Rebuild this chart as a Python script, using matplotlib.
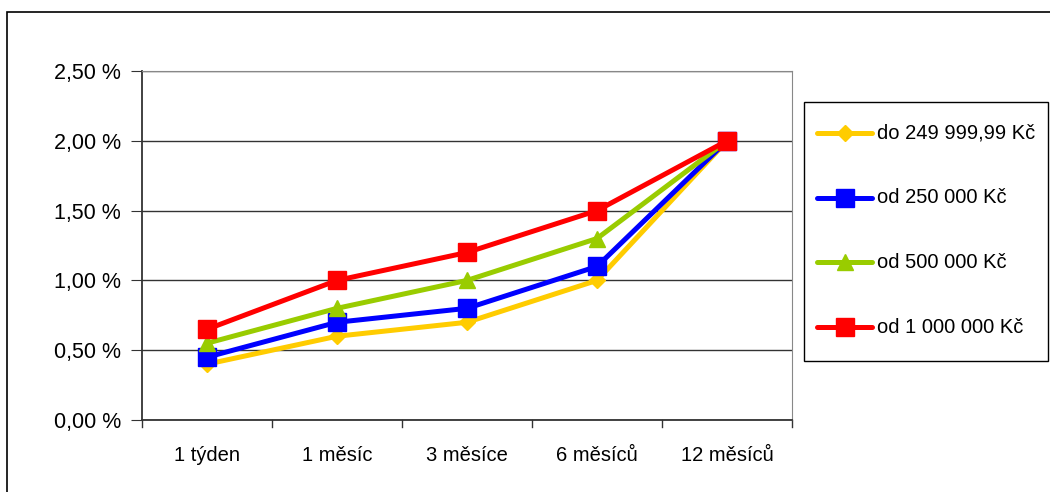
import matplotlib
matplotlib.use("Agg")
import matplotlib.pyplot as plt
from matplotlib.patches import Rectangle
from matplotlib.lines import Line2D
from matplotlib.ticker import FixedLocator, FuncFormatter

plt.rcParams['font.family'] = ['Liberation Sans', 'DejaVu Sans']

categories = ["1 týden", "1 měsíc", "3 měsíce", "6 měsíců", "12 měsíců"]
series_names = ["do 249 999,99 Kč", "od 250 000 Kč", "od 500 000 Kč", "od 1 000 000 Kč"]
rates_do_249999 = [0.40, 0.60, 0.70, 1.00, 2.00]
rates_od_250000 = [0.45, 0.70, 0.80, 1.10, 2.00]
rates_od_500000 = [0.55, 0.80, 1.00, 1.30, 2.00]
rates_od_1000000 = [0.65, 1.00, 1.20, 1.50, 2.00]
y_ticks = [0.0, 0.5, 1.0, 1.5, 2.0, 2.5]

series = [rates_do_249999, rates_od_250000, rates_od_500000, rates_od_1000000]
colors = ["#FFCC00", "#0000FF", "#99CC00", "#FF0000"]
markers = ["D", "s", "^", "s"]
msizes = [8, 12.5, 11, 12.5]
LW = 3.6

W, H = 1050, 492
fig = plt.figure(figsize=(W / 100, H / 100), dpi=100)
fig.patch.set_facecolor("white")

# outer chart frame (continues past the right and bottom edges)
fig.patches.append(Rectangle((7 / W, -0.05), 1.2, 1 - 12 / H + 0.05,
                             transform=fig.transFigure, fill=False,
                             edgecolor="black", linewidth=1.2))

ax = fig.add_axes([142 / W, 1 - 420 / H, (792 - 142) / W, (420 - 71) / H])
x = list(range(len(categories)))
for vals, name, c, m, ms in zip(series, series_names, colors, markers, msizes):
    ax.plot(x, vals, color=c, linewidth=LW, marker=m, markersize=ms,
            markerfacecolor=c, markeredgecolor=c, label=name, clip_on=False)

ax.set_xlim(-0.5, len(categories) - 0.5)
ax.set_ylim(0, 2.5)
ax.yaxis.set_major_locator(FixedLocator(y_ticks))
ax.yaxis.set_major_formatter(FuncFormatter(lambda v, p: f"{v:.2f}".replace(".", ",") + " %"))
ax.grid(axis="y", color="#333333", linewidth=1)
ax.set_axisbelow(True)

ax.set_xticks(x)
ax.set_xticklabels(categories, fontsize=14.5)
ax.tick_params(axis="x", length=0, pad=19)
# category separators below the axis
for b in [i - 0.5 for i in range(len(categories) + 1)]:
    ax.plot([b, b], [0, -0.02 * 2.5], color="#333333", linewidth=1,
            clip_on=False)
ax.tick_params(axis="y", labelsize=15.5, length=8, color="#333333", pad=7)

for side in ["top", "right"]:
    ax.spines[side].set_color("#888888")
ax.spines["left"].set_color("#333333")
ax.spines["bottom"].set_color("#333333")
ax.spines["left"].set_linewidth(1.3)
ax.spines["bottom"].set_linewidth(1.3)

# legend box
fig.patches.append(Rectangle((804 / W, 1 - 361 / H), (1048 - 804) / W, (361 - 102) / H,
                             transform=fig.transFigure, fill=True,
                             facecolor="white", edgecolor="black", linewidth=1))
for i, (name, c, m, ms) in enumerate(zip(series_names, colors, markers, msizes)):
    yy = 1 - (133 + i * 64.7) / H
    fig.add_artist(Line2D([817 / W, 872 / W], [yy, yy], transform=fig.transFigure,
                          color=c, linewidth=LW, solid_capstyle="round"))
    fig.add_artist(Line2D([844.5 / W], [yy], transform=fig.transFigure,
                          linestyle="none", marker=m, markersize=ms,
                          markerfacecolor=c, markeredgecolor=c))
    fig.text(877 / W, yy, name, fontsize=14.5, va="center", ha="left")

fig.savefig("out.png", dpi=100, facecolor="white")
